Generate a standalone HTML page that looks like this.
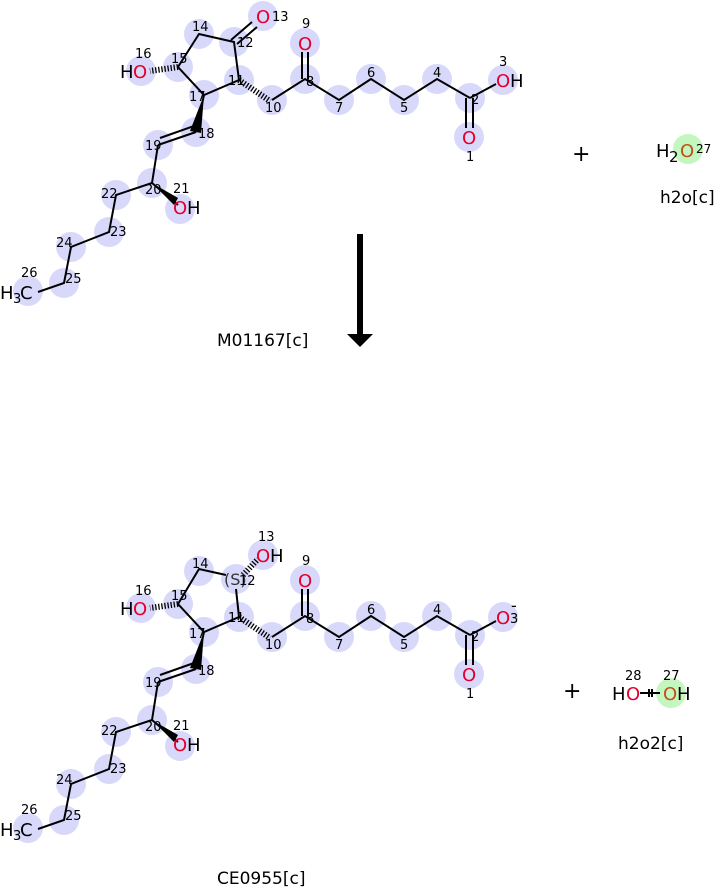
<!DOCTYPE html>
<html><head><meta charset="utf-8"><style>
html,body{margin:0;padding:0;background:#fff;}
svg{display:block;font-family:"DejaVu Sans","Liberation Sans",sans-serif;}
.n{font-size:13px;fill:#000;}
.o{font-size:18px;fill:#e4002b;}
.h{font-size:18px;fill:#000;}
.b{stroke:#000;stroke-width:2;fill:none;}
.hs{stroke:#000;stroke-width:6;stroke-dasharray:1.3 1.8;fill:none;}
circle.a{fill:#d8d8fb;}
</style></head><body>
<svg width="717" height="887" viewBox="0 0 717 887" xmlns="http://www.w3.org/2000/svg">
<g>
<g>
<circle class="a" cx="470" cy="98" r="15"/><circle class="a" cx="469" cy="137" r="15"/><circle class="a" cx="503" cy="80" r="15"/>
<circle class="a" cx="437" cy="79" r="15"/><circle class="a" cx="404" cy="100" r="15"/><circle class="a" cx="371" cy="79" r="15"/>
<circle class="a" cx="339" cy="100" r="15"/><circle class="a" cx="305" cy="79" r="15"/><circle class="a" cx="305" cy="43" r="15"/>
<circle class="a" cx="272" cy="100" r="15"/><circle class="a" cx="239" cy="80" r="15"/><circle class="a" cx="234" cy="42" r="15"/>
<circle class="a" cx="263" cy="16" r="15"/><circle class="a" cx="199" cy="34" r="15"/><circle class="a" cx="178" cy="67" r="15"/>
<circle class="a" cx="141" cy="71" r="15"/><circle class="a" cx="204" cy="95" r="15"/><circle class="a" cx="196" cy="132" r="15"/>
<circle class="a" cx="158" cy="145" r="15"/><circle class="a" cx="152" cy="183" r="15"/><circle class="a" cx="180" cy="209" r="15"/>
<circle class="a" cx="116" cy="195" r="15"/><circle class="a" cx="109" cy="232" r="15"/><circle class="a" cx="71" cy="247" r="15"/>
<circle class="a" cx="64" cy="283" r="15"/><circle class="a" cx="28" cy="291" r="15"/>
</g>
<path class="b" d="M466 98V128M473 98V128M470 98L496 84M470 98L437 79L404 100L371 79L339 100L305 79L272 100M302 79V52M308 79V52M239 80L234 42L199 34L178 67L204 95L239 80M231 40L252 22M237 44L257 27M204 95L196 132M196 132L158 145M194 126L160 138M158 145L152 183L116 195L109 232L71 247L64 283L38 292"/>
<path class="hs" d="M239 80L270 101M178 67L150 71"/>
<polygon points="204,95 190,131 201,133" fill="#000"/>
<polygon points="152,183 174,205 178,198" fill="#000"/>
<path class="b" d="M152 183L178 205"/>
<text class="o" x="256" y="23">O</text><text class="n" x="272" y="21">13</text>
<text class="n" x="237" y="47">12</text><text class="n" x="192" y="31">14</text>
<text class="n" x="171" y="63">15</text><text class="n" x="135" y="58">16</text>
<text class="h" x="120" y="78">H</text><text class="o" x="133" y="78">O</text>
<text class="n" x="228" y="85">11</text><text class="n" x="189" y="101">17</text>
<text class="n" x="265" y="112">10</text><text class="n" x="302" y="28">9</text>
<text class="o" x="298" y="50">O</text><text class="n" x="306" y="86">8</text>
<text class="n" x="335" y="112">7</text><text class="n" x="367" y="77">6</text>
<text class="n" x="400" y="112">5</text><text class="n" x="433" y="77">4</text>
<text class="n" x="471" y="104">2</text><text class="n" x="499" y="66">3</text>
<text class="o" x="496" y="87">O</text><text class="h" x="510" y="87">H</text>
<text class="o" x="462" y="144">O</text><text class="n" x="466" y="161">1</text>
<text class="n" x="198" y="138">18</text><text class="n" x="145" y="150">19</text>
<text class="n" x="145" y="194">20</text><text class="n" x="173" y="193">21</text>
<text class="o" x="173" y="214">O</text><text class="h" x="187" y="214">H</text>
<text class="n" x="101" y="198">22</text><text class="n" x="110" y="236">23</text>
<text class="n" x="56" y="247">24</text><text class="n" x="65" y="283">25</text>
<text class="n" x="21" y="277">26</text>
<text class="h" x="0" y="299">H</text><text class="n" x="13" y="303" style="font-size:13px">3</text><text class="h" x="20" y="299">C</text>
</g>

<g transform="translate(0,537)">
<g>
<circle class="a" cx="470" cy="98" r="15"/><circle class="a" cx="469" cy="137" r="15"/><circle class="a" cx="503" cy="80" r="15"/>
<circle class="a" cx="437" cy="79" r="15"/><circle class="a" cx="404" cy="100" r="15"/><circle class="a" cx="371" cy="79" r="15"/>
<circle class="a" cx="339" cy="100" r="15"/><circle class="a" cx="305" cy="79" r="15"/><circle class="a" cx="305" cy="43" r="15"/>
<circle class="a" cx="272" cy="100" r="15"/><circle class="a" cx="239" cy="80" r="15"/><circle class="a" cx="236" cy="42" r="15"/>
<circle class="a" cx="263" cy="18" r="15"/><circle class="a" cx="199" cy="34" r="15"/><circle class="a" cx="178" cy="67" r="15"/>
<circle class="a" cx="141" cy="71" r="15"/><circle class="a" cx="204" cy="95" r="15"/><circle class="a" cx="196" cy="132" r="15"/>
<circle class="a" cx="158" cy="145" r="15"/><circle class="a" cx="152" cy="183" r="15"/><circle class="a" cx="180" cy="209" r="15"/>
<circle class="a" cx="116" cy="195" r="15"/><circle class="a" cx="109" cy="232" r="15"/><circle class="a" cx="71" cy="247" r="15"/>
<circle class="a" cx="64" cy="283" r="15"/><circle class="a" cx="28" cy="291" r="15"/>
</g>
<path class="b" d="M466 98V128M473 98V128M470 98L496 84M470 98L437 79L404 100L371 79L339 100L305 79L272 100M302 79V52M308 79V52M239 80L236 52M226 38L199 32L178 67L204 95L239 80M204 95L196 132M196 132L158 145M194 126L160 138M158 145L152 183L116 195L109 232L71 247L64 283L38 292"/>
<path class="hs" d="M239 80L270 101M178 67L150 71M243 38L258 22"/>
<polygon points="204,95 190,131 201,133" fill="#000"/>
<polygon points="152,183 174,205 178,198" fill="#000"/>
<path class="b" d="M152 183L178 205"/>
<text x="224" y="48" style="font-size:16px;fill:#333">(S)</text>
<text class="o" x="256" y="25">O</text><text class="h" x="270" y="25">H</text><text class="n" x="258" y="4">13</text>
<text class="n" x="239" y="48">12</text><text class="n" x="192" y="31">14</text>
<text class="n" x="171" y="63">15</text><text class="n" x="135" y="58">16</text>
<text class="h" x="120" y="78">H</text><text class="o" x="133" y="78">O</text>
<text class="n" x="228" y="85">11</text><text class="n" x="189" y="101">17</text>
<text class="n" x="265" y="112">10</text><text class="n" x="302" y="28">9</text>
<text class="o" x="298" y="50">O</text><text class="n" x="306" y="86">8</text>
<text class="n" x="335" y="112">7</text><text class="n" x="367" y="77">6</text>
<text class="n" x="400" y="112">5</text><text class="n" x="433" y="77">4</text>
<text class="n" x="471" y="104">2</text>
<text class="o" x="496" y="87">O</text><text class="n" x="510" y="86">3</text><text class="n" x="511" y="74" style="font-size:16px">-</text>
<text class="o" x="462" y="144">O</text><text class="n" x="466" y="161">1</text>
<text class="n" x="198" y="138">18</text><text class="n" x="145" y="150">19</text>
<text class="n" x="145" y="194">20</text><text class="n" x="173" y="193">21</text>
<text class="o" x="173" y="214">O</text><text class="h" x="187" y="214">H</text>
<text class="n" x="101" y="198">22</text><text class="n" x="110" y="236">23</text>
<text class="n" x="56" y="247">24</text><text class="n" x="65" y="283">25</text>
<text class="n" x="21" y="277">26</text>
<text class="h" x="0" y="299">H</text><text class="n" x="13" y="303" style="font-size:13px">3</text><text class="h" x="20" y="299">C</text>
</g>

<rect x="357" y="234" width="6" height="102" fill="#000"/>
<polygon points="347,334 373,334 360,347" fill="#000"/>
<text x="217" y="346" style="font-size:17px">M01167[c]</text>
<text x="217" y="884" style="font-size:17px">CE0955[c]</text>

<text x="572" y="161" style="font-size:22px">+</text>
<circle cx="688" cy="149" r="15" fill="#c4f7bf"/>
<text class="h" x="656" y="157">H</text><text x="669" y="162" style="font-size:15px">2</text>
<text x="680" y="157" style="font-size:18px;fill:#c05018">O</text><text x="696" y="153" style="font-size:12px">27</text>
<text x="660" y="203" style="font-size:17px">h2o[c]</text>

<text x="563" y="698" style="font-size:22px">+</text>
<circle cx="671" cy="693" r="15" fill="#c4f7bf"/>
<text class="h" x="612" y="700">H</text><text class="o" x="626" y="700">O</text>
<path class="b" d="M640 693H660M649 689V697M652 689V697"/>
<text x="663" y="700" style="font-size:18px;fill:#c05018">O</text><text class="h" x="677" y="700">H</text>
<text class="n" x="625" y="680">28</text><text class="n" x="663" y="680">27</text>
<text x="618" y="749" style="font-size:17px">h2o2[c]</text>
</svg>
</body></html>
